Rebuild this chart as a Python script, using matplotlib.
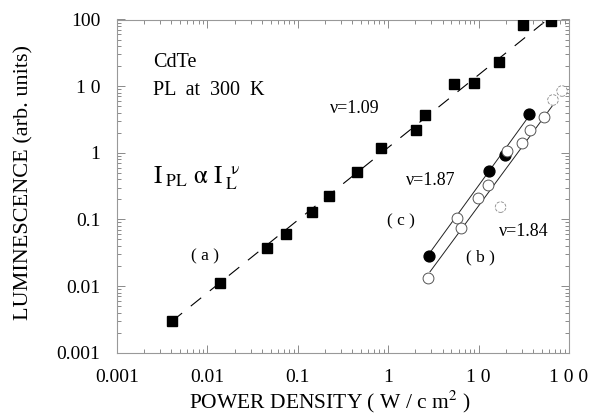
import numpy as np
import matplotlib
matplotlib.use("Agg")
import matplotlib.pyplot as plt
from matplotlib.ticker import FixedLocator, FixedFormatter, LogLocator, NullFormatter

plt.rcParams['font.family'] = ['Liberation Serif', 'DejaVu Serif']
plt.rcParams['mathtext.fontset'] = 'stix'

# ---- data ----
# (a) CdTe, filled squares
a_x = [0.00403, 0.01377, 0.0453, 0.0734, 0.1426, 0.223, 0.449, 0.832,
       2.03, 2.55, 5.38, 8.89, 16.8, 31.2, 63.2]
a_y = [0.00299, 0.01099, 0.0377, 0.0604, 0.128, 0.221, 0.506, 1.16,
       2.20, 3.75, 10.8, 11.0, 23.0, 81.8, 96.0]
# (c) filled circles
c_x = [2.83, 12.9, 19.6, 36.4]
c_y = [0.0282, 0.524, 0.927, 3.88]
# (b) open circles
b_x = [2.78, 5.72, 6.34, 9.84, 12.7, 20.6, 30.0, 37.1, 53.3]
b_y = [0.0132, 0.105, 0.0743, 0.209, 0.329, 1.06, 1.39, 2.20, 3.48]
# faint open circles
bf_x = [17.5, 66.5, 83.8]
bf_y = [0.153, 6.2, 8.45]

# power-law fits  I = A * P^nu
fit_nu = [1.09, 1.87, 1.84]
fit_A = [1.2, 0.00435, 0.00231]
fit_xmin = [0.00403, 2.83, 2.9]
fit_xmax = [63.2, 37.0, 65.0]

ticks = [0.001, 0.01, 0.1, 1, 10, 100]
xtick_labels = ['0.001', '0.01', '0.1', '1', '1 0', '1 0 0']
ytick_labels = ['0.001', '0.01', '0.1', '1', '1 0', '100']

# ---- figure ----
fig = plt.figure(figsize=(5.95, 4.16), dpi=100)
ax = fig.add_axes([117/595, 1-352.7/416, (569-117)/595, (352.7-19.5)/416])
ax.set_xscale('log')
ax.set_yscale('log')
ax.set_xlim(0.001, 100)
ax.set_ylim(0.001, 100)

# fit lines
styles = [dict(color='black', lw=0.8, linestyle=(0, (12, 10))),
          dict(color='#222222', lw=0.7, linestyle='-'),
          dict(color='#222222', lw=0.7, linestyle='-')]
for nu, A, x0, x1, st in zip(fit_nu, fit_A, fit_xmin, fit_xmax, styles):
    xx = np.logspace(np.log10(x0), np.log10(x1), 50)
    ax.plot(xx, A * xx**nu, zorder=1, **st)

ax.plot(a_x, a_y, linestyle='none', marker='s', markersize=7.6,
        color='black', zorder=3)
ax.plot(c_x, c_y, linestyle='none', marker='o', markersize=7.8,
        color='black', zorder=3)
ax.plot(b_x, b_y, linestyle='none', marker='o', markersize=7.8,
        markerfacecolor='white', markeredgecolor='#555555',
        markeredgewidth=0.7, zorder=4)
ax.scatter(bf_x, bf_y, s=58, facecolors='white', edgecolors='#888888',
           linewidths=0.6, linestyles='dashed', zorder=4)

# ticks
for axis, labels in ((ax.xaxis, xtick_labels), (ax.yaxis, ytick_labels)):
    axis.set_major_locator(FixedLocator(ticks))
    axis.set_major_formatter(FixedFormatter(labels))
    axis.set_minor_locator(LogLocator(base=10, subs=np.arange(2, 10)))
    axis.set_minor_formatter(NullFormatter())
ax.tick_params(which='both', direction='in', top=True, right=True,
               color='#777777', width=0.6, labelsize=14)
ax.tick_params(which='major', length=6)
ax.tick_params(which='minor', length=3)
ax.tick_params(axis='x', pad=12)
ax.tick_params(axis='y', pad=12)
for sp in ax.spines.values():
    sp.set_color('#999999')
    sp.set_linewidth(0.8)

ax.set_xlabel('POWER DENSITY ( W / c m$^{2}$ )', fontsize=15.5)
ax.set_ylabel('LUMINESCENCE (arb. units)', fontsize=16)
ax.xaxis.set_label_coords(0.47, -0.108)
ax.yaxis.set_label_coords(-0.185, 0.51)

# annotations
ax.text(0.0796, 0.872, 'CdTe', transform=ax.transAxes, fontsize=14.5,
        ha='left', va='center')
ax.text(0.0796, 0.788, 'PL  at  300  K', transform=ax.transAxes,
        fontsize=14.5, ha='left', va='center')
ax.text(0.0796, 0.509,
        r'$\mathrm{I}_{\ \mathrm{PL}}\ \mathrm{α}\ \mathrm{I}_{\ \mathrm{L}}^{\ \ \mathrm{ν}}$',
        transform=ax.transAxes, fontsize=18, ha='left', va='baseline')
ax.text(0.527, 0.734, 'ν=1.09', transform=ax.transAxes, fontsize=13,
        ha='center', va='center')
ax.text(0.695, 0.518, 'ν=1.87', transform=ax.transAxes, fontsize=13,
        ha='center', va='center')
ax.text(0.900, 0.365, 'ν=1.84', transform=ax.transAxes, fontsize=13,
        ha='center', va='center')
ax.text(0.195, 0.290, '( a )', transform=ax.transAxes, fontsize=12.5,
        ha='center', va='center')
ax.text(0.628, 0.395, '( c )', transform=ax.transAxes, fontsize=12.5,
        ha='center', va='center')
ax.text(0.803, 0.287, '( b )', transform=ax.transAxes, fontsize=12.5,
        ha='center', va='center')

fig.savefig('out.png', dpi=100)
